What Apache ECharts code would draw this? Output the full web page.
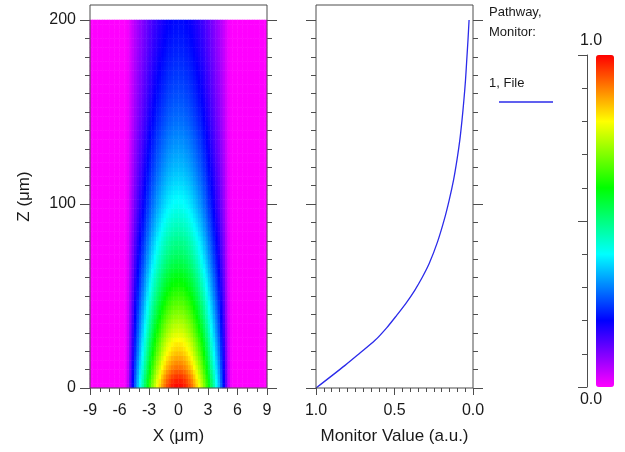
<!DOCTYPE html>
<html><head><meta charset="utf-8">
<script src="https://cdn.jsdelivr.net/npm/echarts@6/dist/echarts.min.js"></script>
<style>html,body{margin:0;padding:0;background:#fff}#c{width:625px;height:452px}</style>
</head><body><div id="c"></div>
<script>
// ---- data ----
// heatmap cell centres along X (um)
const xCells = [-8.875,-8.625,-8.375,-8.125,-7.875,-7.625,-7.375,-7.125,-6.875,-6.625,-6.375,-6.125,-5.875,-5.625,-5.375,-5.125,-4.875,-4.625,-4.375,-4.125,-3.875,-3.625,-3.375,-3.125,-2.875,-2.625,-2.375,-2.125,-1.875,-1.625,-1.375,-1.125,-0.875,-0.625,-0.375,-0.125,
  0.125,0.375,0.625,0.875,1.125,1.375,1.625,1.875,2.125,2.375,2.625,2.875,3.125,3.375,3.625,3.875,4.125,4.375,4.625,4.875,5.125,5.375,5.625,5.875,6.125,6.375,6.625,6.875,7.125,7.375,7.625,7.875,8.125,8.375,8.625,8.875];
// relative transverse field profile at those X
const xProfile = [0,0,0,0,0,0,0,0,0,0,0,0,0,0,0.01,0.05,0.125,0.205,0.28,0.35,0.41,0.47,0.53,0.59,0.65,0.705,0.755,0.80,0.84,0.88,0.915,0.945,0.965,0.985,0.995,1.0,
  1.0,0.995,0.985,0.965,0.945,0.915,0.88,0.84,0.80,0.755,0.705,0.65,0.59,0.53,0.47,0.41,0.35,0.28,0.205,0.125,0.05,0.01,0,0,0,0,0,0,0,0,0,0,0,0,0,0];
// heatmap cell centres along Z (um)
const zCells = [1.25,3.75,6.25,8.75,11.25,13.75,16.25,18.75,21.25,23.75,26.25,28.75,31.25,33.75,36.25,38.75,41.25,43.75,46.25,48.75,
  51.25,53.75,56.25,58.75,61.25,63.75,66.25,68.75,71.25,73.75,76.25,78.75,81.25,83.75,86.25,88.75,91.25,93.75,96.25,98.75,
  101.25,103.75,106.25,108.75,111.25,113.75,116.25,118.75,121.25,123.75,126.25,128.75,131.25,133.75,136.25,138.75,141.25,143.75,146.25,148.75,
  151.25,153.75,156.25,158.75,161.25,163.75,166.25,168.75,171.25,173.75,176.25,178.75,181.25,183.75,186.25,188.75,191.25,193.75,196.25,198.75];
// on-axis field amplitude at those Z
const zAmp = [0.993,0.978,0.958,0.933,0.91,0.89,0.87,0.85,0.832,0.818,
  0.8,0.78,0.762,0.748,0.731,0.714,0.698,0.683,0.667,0.652,
  0.637,0.622,0.608,0.596,0.583,0.567,0.554,0.541,0.529,0.516,
  0.505,0.495,0.484,0.471,0.46,0.45,0.44,0.43,0.42,0.41,
  0.402,0.395,0.387,0.379,0.371,0.364,0.357,0.35,0.343,0.337,
  0.331,0.325,0.319,0.313,0.307,0.301,0.296,0.29,0.285,0.28,
  0.276,0.271,0.267,0.262,0.258,0.254,0.25,0.246,0.242,0.239,
  0.235,0.232,0.228,0.225,0.222,0.219,0.216,0.213,0.21,0.207];
// monitor curve (value vs Z)
const monitorZ     = [0,12.3,19,25.9,32.7,39.5,46.3,53.1,60.3,67.6,79.4,91.2,102,113,124,134.7,145.6,156.5,167,178,189,200];
const monitorValue = [1.0,0.815,0.72,0.624,0.55,0.486,0.425,0.371,0.322,0.279,0.226,0.184,0.152,0.124,0.102,0.084,0.07,0.058,0.048,0.04,0.032,0.025];
// colour scale
const scaleColors = ['#ff00ff','#0000ff','#00ffff','#00ff00','#ffff00','#ff0000'];
const colorbarLabels = ['1.0','0.0'];
const legendTitle = ['Pathway,','Monitor:'];
const legendItem = '1, File';

// ---- build ----
const FONT = 'Liberation Sans';
const AX = '#4d4d4d';
const TXT = '#1a1a1a';
const heatData = [];
for (let j = 0; j < zCells.length; j++) {
  for (let i = 0; i < xCells.length; i++) {
    heatData.push([i, j, +(xProfile[i] * zAmp[j]).toFixed(4)]);
  }
}
const lineData = monitorValue.map((v, i) => [v, monitorZ[i]]);

const noSplit = {show: false};
const tickStyle = {color: AX, width: 1};
function hiddenAxis(grid, extra) {
  return Object.assign({gridIndex: grid, type: 'value', min: 0, max: 1, show: false}, extra || {});
}
function zAxis(grid, pos, labels) {
  return {
    gridIndex: grid, type: 'value', position: pos, min: 0, max: 200, interval: 100,
    axisLine: {show: false, onZero: false},
    axisTick: {show: true, length: 10, lineStyle: tickStyle},
    minorTick: {show: true, splitNumber: 10, length: 5, lineStyle: tickStyle},
    splitLine: noSplit,
    axisLabel: {show: labels, margin: 14, fontFamily: FONT, fontSize: 16, color: TXT}
  };
}

const option = {
  animation: false,
  backgroundColor: '#fff',
  grid: [
    {left: 90, top: 20, width: 177, height: 368},
    {left: 90, top: 5, width: 177, height: 383, show: true, borderColor: AX, borderWidth: 1, backgroundColor: 'transparent', z: 5},
    {left: 316, top: 20, width: 157, height: 368},
    {left: 316, top: 5, width: 157, height: 383, show: true, borderColor: AX, borderWidth: 1, backgroundColor: 'transparent', z: 5},
    {left: 587, top: 55, width: 10, height: 332}
  ],
  xAxis: [
    {gridIndex: 0, type: 'category', data: xCells, show: false},
    {gridIndex: 0, type: 'value', position: 'bottom', min: -9, max: 9, interval: 3,
     axisLine: {show: false, onZero: false},
     axisTick: {show: true, length: 7, lineStyle: tickStyle},
     minorTick: {show: true, splitNumber: 3, length: 4, lineStyle: tickStyle},
     splitLine: noSplit,
     axisLabel: {margin: 15, fontFamily: FONT, fontSize: 16, color: TXT},
     name: 'X (μm)', nameLocation: 'middle', nameGap: 40,
     nameTextStyle: {fontFamily: FONT, fontSize: 17, color: TXT}},
    hiddenAxis(1),
    {gridIndex: 2, type: 'value', position: 'bottom', min: 0, max: 1, interval: 0.5, inverse: true,
     axisLine: {show: false, onZero: false},
     axisTick: {show: true, length: 7, lineStyle: tickStyle},
     minorTick: {show: true, splitNumber: 10, length: 4, lineStyle: tickStyle},
     splitLine: noSplit,
     axisLabel: {margin: 15, fontFamily: FONT, fontSize: 16, color: TXT, formatter: v => v.toFixed(1)},
     name: 'Monitor Value (a.u.)', nameLocation: 'middle', nameGap: 40,
     nameTextStyle: {fontFamily: FONT, fontSize: 17, color: TXT}},
    hiddenAxis(3),
    hiddenAxis(4)
  ],
  yAxis: [
    {gridIndex: 0, type: 'category', data: zCells, show: false},
    zAxis(0, 'left', true),
    zAxis(0, 'right', false),
    {gridIndex: 1, type: 'value', min: 0, max: 1, position: 'left',
     axisLine: {show: false, onZero: false}, axisTick: {show: false}, axisLabel: {show: false}, splitLine: noSplit,
     name: 'Z (μm)', nameLocation: 'middle', nameRotate: 90, nameGap: 57,
     nameTextStyle: {fontFamily: FONT, fontSize: 17, color: TXT}},
    zAxis(2, 'left', false),
    zAxis(2, 'right', false),
    hiddenAxis(3),
    {gridIndex: 4, type: 'value', position: 'left', min: 0, max: 1, interval: 0.5,
     axisLine: {show: true, onZero: false, lineStyle: tickStyle},
     axisTick: {show: true, length: 9, lineStyle: tickStyle},
     minorTick: {show: true, splitNumber: 5, length: 5, lineStyle: tickStyle},
     splitLine: noSplit, axisLabel: {show: false}}
  ],
  visualMap: {
    type: 'continuous', seriesIndex: 0, min: 0, max: 1, calculable: false, hoverLink: false,
    orient: 'vertical', left: 596, top: 55, padding: 0, itemWidth: 18, itemHeight: 332,
    inRange: {color: scaleColors}, textStyle: {color: TXT}
  },
  series: [
    {type: 'heatmap', xAxisIndex: 0, yAxisIndex: 0, data: heatData, progressive: 0,
     emphasis: {disabled: true}, silent: true},
    {type: 'line', xAxisIndex: 3, yAxisIndex: 4, data: lineData, showSymbol: false, symbol: 'none', smooth: 0.3,
     lineStyle: {color: '#2b2bea', width: 1.3}, silent: true}
  ],
  graphic: [
    {type: 'text', x: 489, y: 12, style: {text: legendTitle[0], font: '13px "Liberation Sans"', fill: TXT, verticalAlign: 'middle'}},
    {type: 'text', x: 489, y: 32, style: {text: legendTitle[1], font: '13px "Liberation Sans"', fill: TXT, verticalAlign: 'middle'}},
    {type: 'text', x: 489, y: 83, style: {text: legendItem, font: '13px "Liberation Sans"', fill: TXT, verticalAlign: 'middle'}},
    {type: 'line', shape: {x1: 499, y1: 102, x2: 553, y2: 102}, style: {stroke: '#2b2bea', lineWidth: 1.5}},
    {type: 'text', x: 591, y: 41, style: {text: colorbarLabels[0], font: '16px "Liberation Sans"', fill: TXT, align: 'center', verticalAlign: 'middle'}},
    {type: 'text', x: 591, y: 400, style: {text: colorbarLabels[1], font: '16px "Liberation Sans"', fill: TXT, align: 'center', verticalAlign: 'middle'}}
  ]
};
const chart = echarts.init(document.getElementById('c'), null, {renderer: 'canvas'});
chart.setOption(option);
</script></body></html>
